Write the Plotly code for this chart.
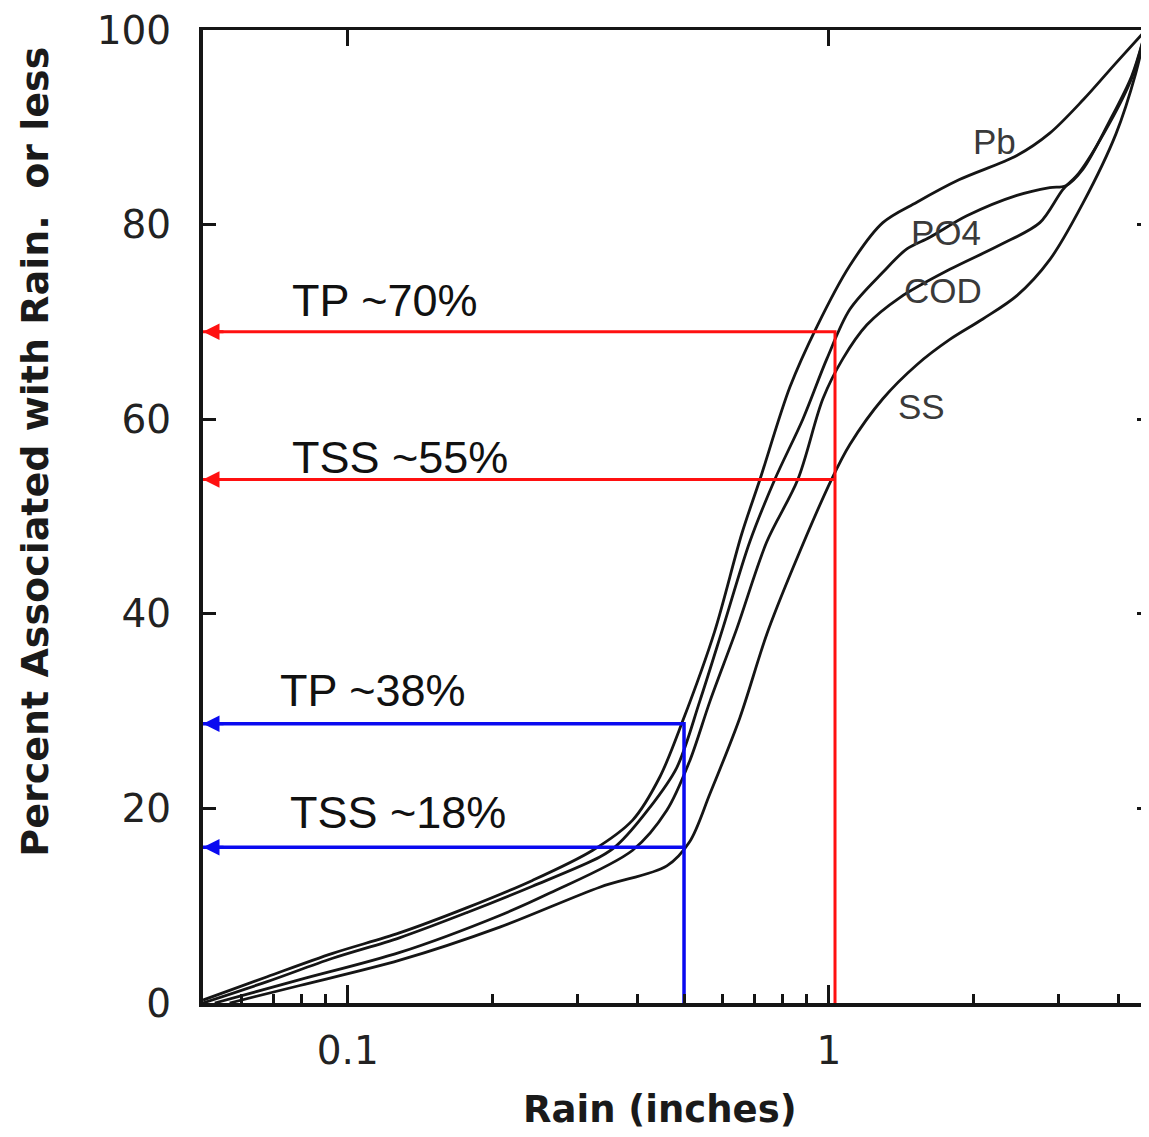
import numpy as np
import plotly.graph_objects as go

# ---------------- data ----------------
rain_pb = [0.05, 0.068, 0.093, 0.128, 0.177, 0.242, 0.323, 0.391, 0.445, 0.497, 0.579,
           0.659, 0.719, 0.830, 0.944, 1.106, 1.295, 1.524, 1.864, 2.46, 2.88, 3.375, 3.951, 4.56]
pct_pb = [0.3, 2.7, 5.1, 7.2, 9.8, 12.6, 15.7, 18.8, 23.2, 29.0, 38.2,
          48.2, 53.8, 63.3, 69.5, 75.8, 80.2, 82.3, 84.6, 87.1, 89.4, 92.8, 96.6, 100]

rain_po4 = [0.05, 0.068, 0.093, 0.128, 0.177, 0.242, 0.334, 0.3625, 0.4245, 0.483, 0.539,
            0.602, 0.685, 0.772, 0.883, 0.9905, 1.106, 1.295, 1.453, 1.622, 1.936, 2.46,
            2.88, 3.11, 3.375, 3.821, 4.265, 4.56]
pct_po4 = [0, 2.2, 4.6, 6.7, 9.3, 12.0, 15.0, 16.2, 20.1, 24.2, 31.0,
           38.5, 47.4, 53.8, 60.0, 66.2, 71.3, 75.1, 77.5, 78.7, 80.9, 83.0,
           83.8, 84.0, 85.7, 90.5, 95.3, 100]

rain_cod = [0.0529, 0.0795, 0.1283, 0.207, 0.263, 0.391, 0.4605, 0.514, 0.566, 0.644, 0.743,
            0.862, 0.972, 1.069, 1.20, 1.405, 1.785, 2.267, 2.746, 3.065, 3.31, 3.821, 4.265, 4.56]
pct_cod = [0, 2.4, 5.2, 9.0, 11.3, 15.7, 19.8, 24.9, 31.0, 38.5, 47.4,
           53.8, 62.1, 66.2, 69.7, 72.5, 75.4, 77.9, 80.2, 83.6, 85.3, 90.3, 95.1, 100]

rain_ss = [0.0568, 0.0795, 0.1283, 0.207, 0.334, 0.4605, 0.514, 0.566, 0.653, 0.743, 0.842,
           1.015, 1.106, 1.295, 1.524, 1.785, 2.09, 2.46, 2.88, 3.375, 3.951, 4.348, 4.56]
pct_ss = [0, 1.8, 4.4, 7.8, 11.9, 14.1, 16.6, 21.5, 29.3, 37.9, 44.7,
          53.9, 57.4, 62.1, 65.6, 68.2, 70.3, 72.7, 76.4, 82.2, 89.3, 95.6, 100]

curve_names = ["Pb", "PO4", "COD", "SS"]
curve_label_rain = [2.214, 1.751, 1.726, 1.561]
curve_label_pct = [88.5, 79.2, 73.2, 61.3]

# reference lines
big_rain = 1.03
tp_big_pct = 69.0
tss_big_pct = 53.8
small_rain = 0.5
tp_small_pct = 28.7
tss_small_pct = 16.0

note_text = ["TP ~70%", "TSS ~55%", "TP ~38%", "TSS ~18%"]
note_rain = [0.0758, 0.0758, 0.0715, 0.0750]
note_pct = [72.2, 56.1, 32.1, 19.6]

x_min, x_max = 0.05, 4.63
x_major = [0.1, 1]
x_major_text = ["0.1", "1"]
x_minor = [0.06, 0.07, 0.08, 0.09, 0.2, 0.3, 0.4, 0.5, 0.6, 0.7, 0.8, 0.9, 2, 3, 4]
y_ticks = [0, 20, 40, 60, 80, 100]

RED = "#ff1010"
BLUE = "#0a0af0"
INK = "#151515"

fig = go.Figure()

for xs, ys in [(rain_pb, pct_pb), (rain_po4, pct_po4), (rain_cod, pct_cod), (rain_ss, pct_ss)]:
    fig.add_trace(go.Scatter(x=xs, y=ys, mode="lines",
                             line=dict(color=INK, width=2.8, shape="spline", smoothing=0.9),
                             showlegend=False, hoverinfo="skip"))

# red reference lines
fig.add_trace(go.Scatter(x=[x_min, big_rain, big_rain], y=[tp_big_pct, tp_big_pct, 0],
                         mode="lines", line=dict(color=RED, width=3),
                         showlegend=False, hoverinfo="skip"))
fig.add_trace(go.Scatter(x=[x_min, big_rain], y=[tss_big_pct, tss_big_pct],
                         mode="lines", line=dict(color=RED, width=3),
                         showlegend=False, hoverinfo="skip"))
# blue reference lines
fig.add_trace(go.Scatter(x=[x_min, small_rain, small_rain], y=[tp_small_pct, tp_small_pct, 0],
                         mode="lines", line=dict(color=BLUE, width=3.5),
                         showlegend=False, hoverinfo="skip"))
fig.add_trace(go.Scatter(x=[x_min, small_rain], y=[tss_small_pct, tss_small_pct],
                         mode="lines", line=dict(color=BLUE, width=3.5),
                         showlegend=False, hoverinfo="skip"))

# dummy trace for the mirrored (top/right) axes
fig.add_trace(go.Scatter(x=[1], y=[50], xaxis="x2", yaxis="y2", mode="markers",
                         marker=dict(opacity=0), showlegend=False, hoverinfo="skip"))

annotations = []
# arrowheads
for pct, col in [(tp_big_pct, RED), (tss_big_pct, RED), (tp_small_pct, BLUE), (tss_small_pct, BLUE)]:
    annotations.append(dict(x=np.log10(x_min), y=pct, xref="x", yref="y", ax=22, ay=0,
                            text="", showarrow=True, arrowhead=2, arrowsize=1.1,
                            arrowwidth=3, arrowcolor=col, standoff=0))
# notes
for t, xr, yp in zip(note_text, note_rain, note_pct):
    annotations.append(dict(x=np.log10(xr), y=yp, xref="x", yref="y", text=t,
                            showarrow=False, xanchor="left", yanchor="middle",
                            font=dict(family="Liberation Sans, Arial", size=45, color="#111")))
# curve labels
for t, xr, yp in zip(curve_names, curve_label_rain, curve_label_pct):
    annotations.append(dict(x=np.log10(xr), y=yp, xref="x", yref="y", text=t,
                            showarrow=False, xanchor="center", yanchor="middle",
                            font=dict(family="Liberation Sans, Arial", size=35, color="#3a3a3a")))
# axis titles
annotations.append(dict(x=-0.1776, y=0.5666, xref="paper", yref="paper",
                        text="Percent Associated with Rain.  or less", textangle=-90,
                        showarrow=False, xanchor="center", yanchor="middle",
                        font=dict(family="DejaVu Sans", size=38, color="#1a1a1a", weight="bold")))
annotations.append(dict(x=0.4831, y=-0.1096, xref="paper", yref="paper",
                        text="Rain (inches)", showarrow=False, xanchor="center", yanchor="middle",
                        font=dict(family="DejaVu Sans", size=37, color="#1a1a1a", weight="bold")))

tick_font = dict(family="DejaVu Sans", size=39, color="#222")

# the page body adds an 8 px margin, so the figure is shrunk by that amount
fig.update_layout(
    width=1141, height=1129,
    margin=dict(l=195, r=0, t=19, b=134),
    paper_bgcolor="white", plot_bgcolor="white",
    showlegend=False,
    annotations=annotations,
    xaxis=dict(type="log", range=[np.log10(x_min), np.log10(x_max)],
               tickmode="array", tickvals=x_major, ticktext=x_major_text,
               ticks="inside", ticklen=18, tickwidth=3, tickcolor=INK,
               showline=True, linewidth=3.5, linecolor=INK, showgrid=False, zeroline=False,
               tickfont=tick_font, ticklabelstandoff=10, ticklabeloverflow="allow",
               minor=dict(tickvals=x_minor, ticks="inside", ticklen=9, tickwidth=2.5,
                          tickcolor=INK, showgrid=False)),
    yaxis=dict(range=[0, 100], tickmode="array", tickvals=y_ticks,
               ticks="inside", ticklen=13, tickwidth=3, tickcolor=INK,
               showline=True, linewidth=4, linecolor=INK, showgrid=False, zeroline=False,
               tickfont=tick_font, ticklabelstandoff=20, ticklabeloverflow="allow"),
    xaxis2=dict(type="log", range=[np.log10(x_min), np.log10(x_max)], overlaying="x",
                side="top", anchor="y2", tickmode="array", tickvals=x_major,
                ticks="inside", ticklen=16, tickwidth=3, tickcolor=INK,
                showline=True, linewidth=2.5, linecolor=INK, showticklabels=False,
                showgrid=False, zeroline=False),
    yaxis2=dict(range=[0, 100], overlaying="y", side="right", anchor="x2",
                tickmode="array", tickvals=[20, 40, 60, 80],
                ticks="inside", ticklen=12, tickwidth=3, tickcolor=INK,
                showline=False, showticklabels=False, showgrid=False, zeroline=False),
)

fig.write_html("out.html")
